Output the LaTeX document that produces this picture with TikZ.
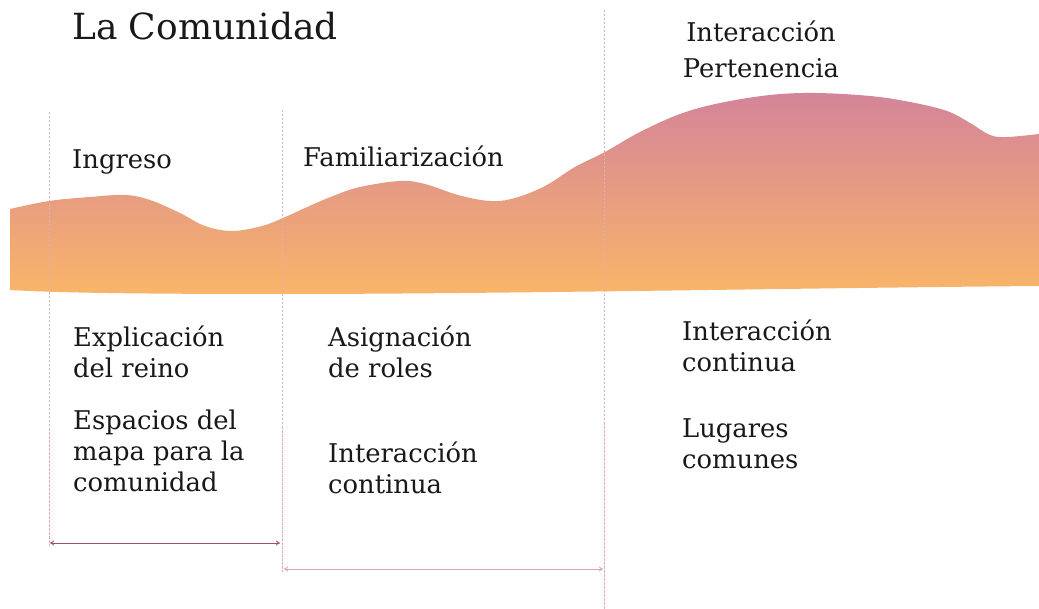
\documentclass[tikz,border=0pt]{standalone}
\usepackage{fontspec}
\setmainfont{DejaVu Serif}
\usetikzlibrary{arrows.meta}
\definecolor{wavetop}{RGB}{212,132,153}
\definecolor{wavebot}{RGB}{249,181,105}
\definecolor{guide}{RGB}{220,175,185}
\definecolor{arrowA}{RGB}{165,80,95}
\definecolor{arrowB}{RGB}{225,160,175}
\tikzset{
  txt/.style={font=\fontsize{25.8}{31}\selectfont, inner sep=0pt, anchor=base west, align=left, text=black!90},
  guideline/.style={draw=guide, line width=0.7pt, dash pattern=on 2.5pt off 1.5pt},
  spanA/.style={draw=arrowA, line width=0.8pt, {To[length=4pt,width=5pt]}-{To[length=4pt,width=5pt]}},
  spanB/.style={draw=arrowB, line width=0.8pt, {To[length=4pt,width=5pt]}-{To[length=4pt,width=5pt]}}
}
\begin{document}
\begin{tikzpicture}[x=1pt,y=-1pt]
\useasboundingbox[fill=white] (0,0) rectangle (1039,609);
% wave
\shade[top color=wavetop, bottom color=wavebot]
  plot[smooth, tension=0.6] coordinates {(10,209) (49,201) (90,197) (125,195) (150,200) (180,213) (205,226) (232,231) (262,226) (283,218) (305,208) (333,196) (360,187) (400,181) (425,184) (458,195) (490,201) (515,198) (545,186) (575,167) (605,152) (640,132) (680,114) (720,103) (770,95) (815,93) (870,96) (910,102) (947,111) (970,123) (990,135) (1007,137) (1039,134)}
  -- (1039,286)
  .. controls (800,288) and (500,294) .. (280,294)
  .. controls (150,294) and (60,293) .. (10,290) -- cycle;
% guides
\coordinate (g1t) at (49,112); \coordinate (g1b) at (49,546);
\coordinate (g2t) at (282,110); \coordinate (g2b) at (282,572);
\coordinate (g3t) at (604,10); \coordinate (g3b) at (604,609);
\draw[guideline] (g1t) -- (g1b);
\draw[guideline] (g2t) -- (g2b);
\draw[guideline] (g3t) -- (g3b);
% spans
\coordinate (a1l) at (50,543); \coordinate (a1r) at (280,543);
\coordinate (a2l) at (284,569); \coordinate (a2r) at (603,569);
\draw[spanA] (a1l) -- (a1r);
\draw[spanB] (a2l) -- (a2r);
% texts (multi-line nodes: base = last line)
\node[txt, font=\fontsize{36}{44}\selectfont] (title) at (72,40) {La Comunidad};
\node[txt] (ingreso) at (72,169) {Ingreso};
\node[txt] (famil) at (303,167) {Familiarización};
\node[txt, align=center, anchor=base, font=\fontsize{25.8}{36}\selectfont] (inter) at (761,78) {Interacción\\Pertenencia};
\node[txt] (expl) at (73,378) {Explicación\\del reino};
\node[txt] (esp) at (73,491) {Espacios del\\mapa para la\\comunidad};
\node[txt] (asig) at (328,378) {Asignación\\de roles};
\node[txt] (intc1) at (328,493) {Interacción\\continua};
\node[txt] (intc2) at (682,372) {Interacción\\continua};
\node[txt] (lug) at (682,468) {Lugares\\comunes};
\end{tikzpicture}
\end{document}
